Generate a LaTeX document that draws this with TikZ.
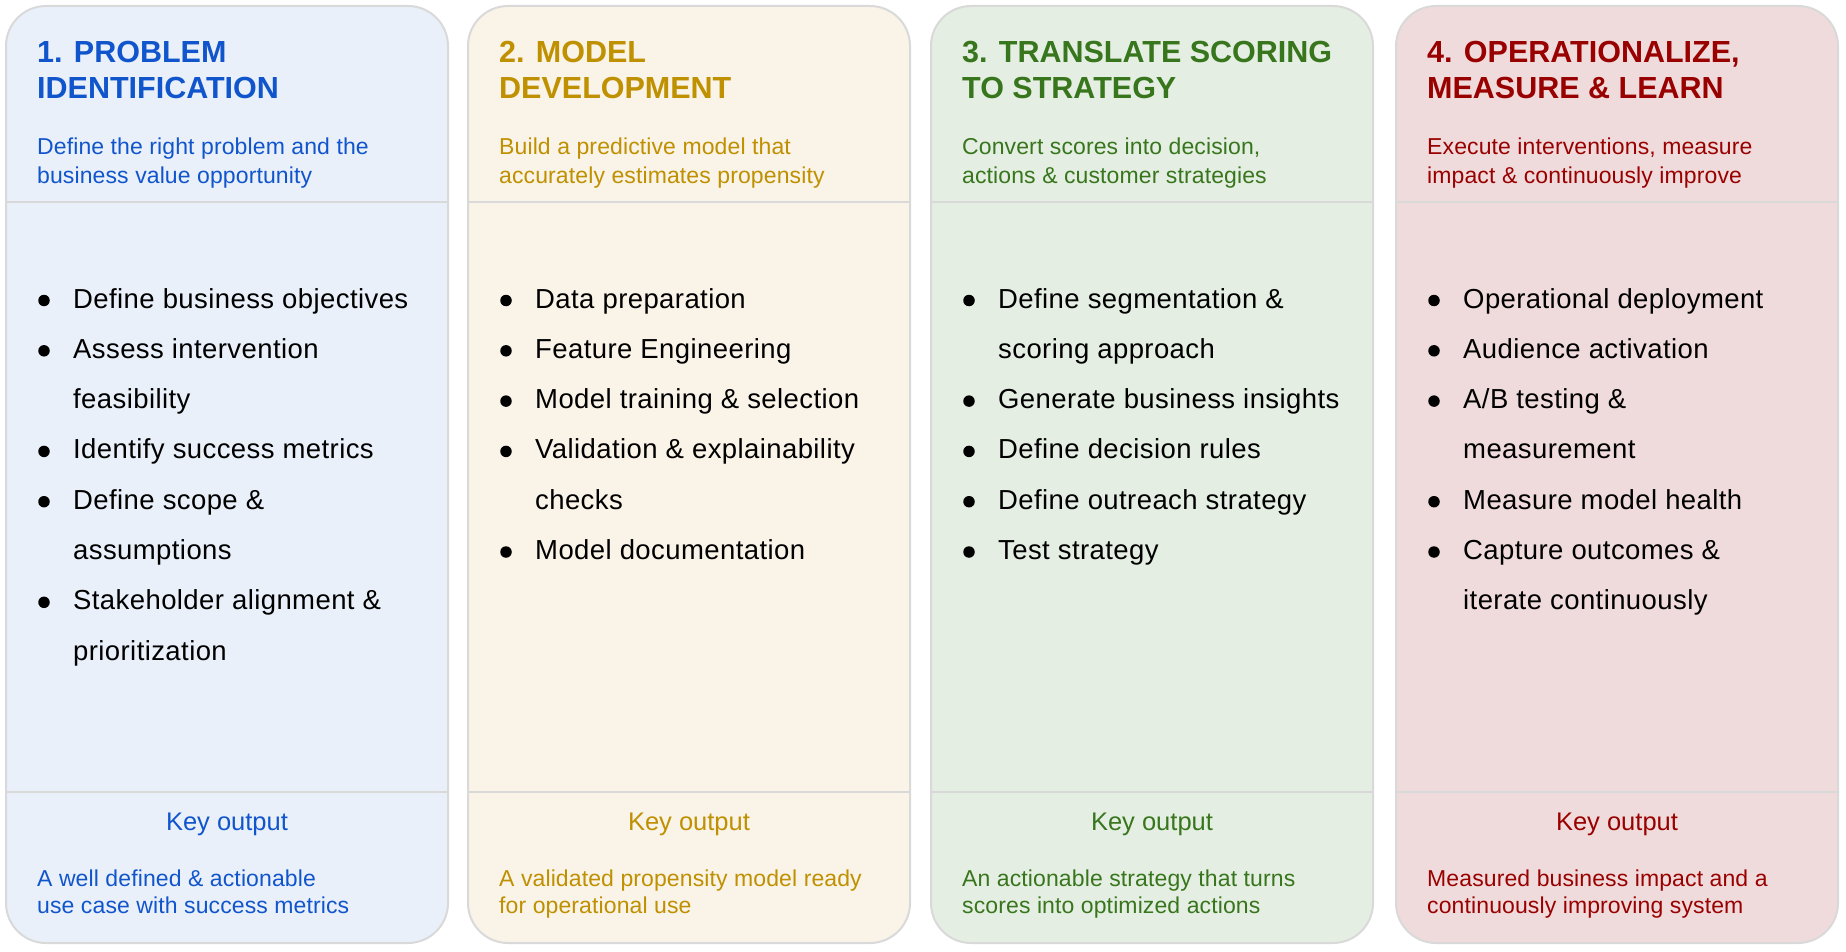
\documentclass[tikz,border=0pt]{standalone}
\usepackage{fontspec}
\setmainfont{Liberation Sans}
\definecolor{bordergray}{HTML}{D9D9D9}
\definecolor{cblue}{HTML}{1155CC}
\definecolor{fblue}{HTML}{E9F0F9}
\definecolor{cgold}{HTML}{BF9000}
\definecolor{fgold}{HTML}{FAF3E8}
\definecolor{cgreen}{HTML}{38761D}
\definecolor{fgreen}{HTML}{E5EEE2}
\definecolor{cred}{HTML}{990000}
\definecolor{fred}{HTML}{F0DBDC}
\tikzset{
  panel/.style={draw=bordergray, line width=2pt, rounded corners=40pt},
  sepline/.style={draw=bordergray, line width=2pt},
  ttl/.style={anchor=base west, inner sep=0pt, font=\fontsize{30.5}{36}\selectfont\bfseries},
  sub/.style={anchor=base west, inner sep=0pt, font=\fontsize{23}{28}\selectfont\addfontfeature{LetterSpace=0.5}},
  item/.style={anchor=base west, inner sep=0pt, text=black, font=\fontsize{27.5}{30}\selectfont\addfontfeature{LetterSpace=1.5}},
  keyo/.style={anchor=base, inner sep=0pt, font=\fontsize{25.5}{30}\selectfont},
  dot/.style={circle, fill=black, draw=none, inner sep=0pt, minimum size=11.5pt},
}
\begin{document}
\begin{tikzpicture}[x=1pt,y=-1pt]
\useasboundingbox (0,0) rectangle (1846,952);
% ---------------- Panel 1
\begin{scope}[shift={(6,0)}]
  \draw[panel, fill=fblue] (0,6) rectangle (442,943);
  \draw[sepline] (0,202) -- (442,202);
  \draw[sepline] (0,792) -- (442,792);
  \node[ttl, text=cblue] (p1t1) at (31,63) {1. PROBLEM};
  \node[ttl, text=cblue] (p1t2) at (31,99) {IDENTIFICATION};
  \node[sub, text=cblue] (p1s1) at (31,155) {Define the right problem and the};
  \node[sub, text=cblue] (p1s2) at (31,183) {business value opportunity};
  \foreach \r/\d/\t in {0/1/{Define business objectives}, 1/1/{Assess intervention}, 2/0/{feasibility}, 3/1/{Identify success metrics}, 4/1/{Define scope \&}, 5/0/{assumptions}, 6/1/{Stakeholder alignment \&}, 7/0/{prioritization}}{
    \node[item] (p1i\r) at (67,{308+50.3*\r}) {\t};
    \ifnum\d=1 \node[dot] (p1d\r) at (38,{300.5+50.3*\r}) {}; \fi
  }
  \node[keyo, text=cblue] (p1k) at (221,830) {Key output};
  \node[sub, text=cblue] (p1f1) at (31,886) {A well defined \& actionable};
  \node[sub, text=cblue] (p1f2) at (31,913) {use case with success metrics};
\end{scope}
% ---------------- Panel 2
\begin{scope}[shift={(468,0)}]
  \draw[panel, fill=fgold] (0,6) rectangle (442,943);
  \draw[sepline] (0,202) -- (442,202);
  \draw[sepline] (0,792) -- (442,792);
  \node[ttl, text=cgold] (p2t1) at (31,63) {2. MODEL};
  \node[ttl, text=cgold] (p2t2) at (31,99) {DEVELOPMENT};
  \node[sub, text=cgold] (p2s1) at (31,155) {Build a predictive model that};
  \node[sub, text=cgold] (p2s2) at (31,183) {accurately estimates propensity};
  \foreach \r/\d/\t in {0/1/{Data preparation}, 1/1/{Feature Engineering}, 2/1/{Model training \& selection}, 3/1/{Validation \& explainability}, 4/0/{checks}, 5/1/{Model documentation}}{
    \node[item] (p2i\r) at (67,{308+50.3*\r}) {\t};
    \ifnum\d=1 \node[dot] (p2d\r) at (38,{300.5+50.3*\r}) {}; \fi
  }
  \node[keyo, text=cgold] (p2k) at (221,830) {Key output};
  \node[sub, text=cgold] (p2f1) at (31,886) {A validated propensity model ready};
  \node[sub, text=cgold] (p2f2) at (31,913) {for operational use};
\end{scope}
% ---------------- Panel 3
\begin{scope}[shift={(931,0)}]
  \draw[panel, fill=fgreen] (0,6) rectangle (442,943);
  \draw[sepline] (0,202) -- (442,202);
  \draw[sepline] (0,792) -- (442,792);
  \node[ttl, text=cgreen] (p3t1) at (31,63) {3. TRANSLATE SCORING};
  \node[ttl, text=cgreen] (p3t2) at (31,99) {TO STRATEGY};
  \node[sub, text=cgreen] (p3s1) at (31,155) {Convert scores into decision,};
  \node[sub, text=cgreen] (p3s2) at (31,183) {actions \& customer strategies};
  \foreach \r/\d/\t in {0/1/{Define segmentation \&}, 1/0/{scoring approach}, 2/1/{Generate business insights}, 3/1/{Define decision rules}, 4/1/{Define outreach strategy}, 5/1/{Test strategy}}{
    \node[item] (p3i\r) at (67,{308+50.3*\r}) {\t};
    \ifnum\d=1 \node[dot] (p3d\r) at (38,{300.5+50.3*\r}) {}; \fi
  }
  \node[keyo, text=cgreen] (p3k) at (221,830) {Key output};
  \node[sub, text=cgreen] (p3f1) at (31,886) {An actionable strategy that turns};
  \node[sub, text=cgreen] (p3f2) at (31,913) {scores into optimized actions};
\end{scope}
% ---------------- Panel 4
\begin{scope}[shift={(1396,0)}]
  \draw[panel, fill=fred] (0,6) rectangle (442,943);
  \draw[sepline] (0,202) -- (442,202);
  \draw[sepline] (0,792) -- (442,792);
  \node[ttl, text=cred] (p4t1) at (31,63) {4. OPERATIONALIZE,};
  \node[ttl, text=cred] (p4t2) at (31,99) {MEASURE \& LEARN};
  \node[sub, text=cred] (p4s1) at (31,155) {Execute interventions, measure};
  \node[sub, text=cred] (p4s2) at (31,183) {impact \& continuously improve};
  \foreach \r/\d/\t in {0/1/{Operational deployment}, 1/1/{Audience activation}, 2/1/{A/B testing \&}, 3/0/{measurement}, 4/1/{Measure model health}, 5/1/{Capture outcomes \&}, 6/0/{iterate continuously}}{
    \node[item] (p4i\r) at (67,{308+50.3*\r}) {\t};
    \ifnum\d=1 \node[dot] (p4d\r) at (38,{300.5+50.3*\r}) {}; \fi
  }
  \node[keyo, text=cred] (p4k) at (221,830) {Key output};
  \node[sub, text=cred] (p4f1) at (31,886) {Measured business impact and a};
  \node[sub, text=cred] (p4f2) at (31,913) {continuously improving system};
\end{scope}
\end{tikzpicture}
\end{document}
